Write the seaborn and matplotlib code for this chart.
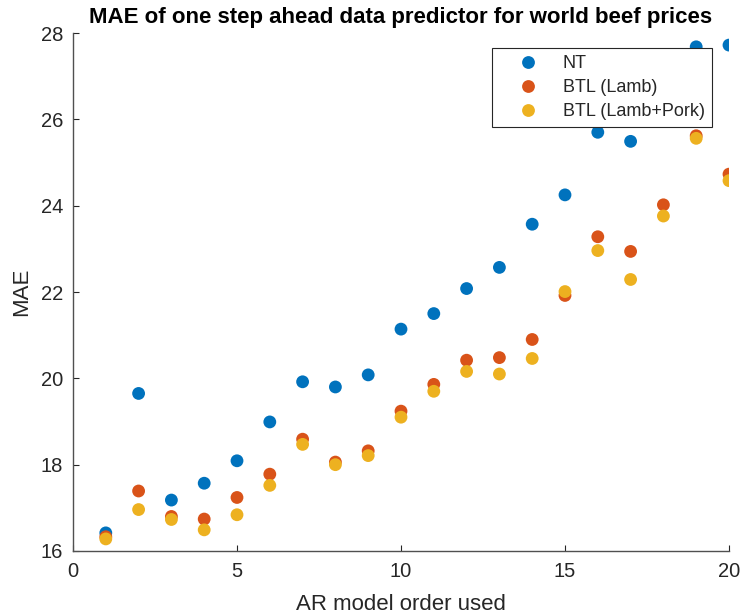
import numpy as np
import pandas as pd
import matplotlib
matplotlib.use("Agg")
import matplotlib.pyplot as plt
import seaborn as sns

orders = list(range(1, 21))
nt = [16.42, 19.65, 17.18, 17.57, 18.09, 18.99, 19.92, 19.80, 20.08, 21.14,
      21.50, 22.08, 22.57, 23.57, 24.25, 25.70, 25.49, 26.60, 27.68, 27.72]
btl_lamb = [16.33, 17.39, 16.80, 16.74, 17.24, 17.78, 18.59, 18.06, 18.32, 19.24,
            19.86, 20.42, 20.48, 20.90, 21.92, 23.28, 22.94, 24.02, 25.62, 24.73]
btl_lamb_pork = [16.28, 16.96, 16.73, 16.49, 16.84, 17.52, 18.47, 18.00, 18.21, 19.10,
                 19.70, 20.16, 20.10, 20.46, 22.01, 22.96, 22.29, 23.76, 25.56, 24.58]
series_names = ["NT", "BTL (Lamb)", "BTL (Lamb+Pork)"]
colors = ["#0072BD", "#D95319", "#EDB120"]
x_ticks = [0, 5, 10, 15, 20]
y_ticks = [16, 18, 20, 22, 24, 26, 28]

df = pd.concat([
    pd.DataFrame({"order": orders, "MAE": vals, "series": name})
    for name, vals in zip(series_names, [nt, btl_lamb, btl_lamb_pork])
], ignore_index=True)

sns.set_theme(style="white")
plt.rcParams['font.family'] = ['Liberation Sans', 'DejaVu Sans']

fig = plt.figure(figsize=(7.42, 6.16), dpi=100)
ax = fig.add_axes([73/742, 1-551/616, 656/742, 518/616])

sns.scatterplot(data=df, x="order", y="MAE", hue="series", hue_order=series_names,
                palette=colors, s=85, linewidth=0, ax=ax, zorder=3, legend=True)

ax.set_xlim(0, 20)
ax.set_ylim(16, 28)
ax.set_xticks(x_ticks)
ax.set_yticks(y_ticks)
tc = "#262626"
ax.tick_params(direction="in", length=4.5, width=0.8, colors=tc, labelsize=14.5,
               top=False, right=False, bottom=True, left=True)
ax.tick_params(axis="x", pad=8)
ax.tick_params(axis="y", pad=7)
for s in ["top", "right"]:
    ax.spines[s].set_visible(False)
for s in ["left", "bottom"]:
    ax.spines[s].set_color("#505050")
    ax.spines[s].set_linewidth(1.0)
ax.set_xlabel("AR model order used", fontsize=16, color=tc, labelpad=9)
ax.set_ylabel("MAE", fontsize=16, color=tc, labelpad=6)
ax.set_title("MAE of one step ahead data predictor for world beef prices",
             fontsize=16, fontweight="bold", color="black", pad=7)

leg = ax.legend(loc="upper right", bbox_to_anchor=(0.974, 0.971), fontsize=13,
                frameon=True, fancybox=False, framealpha=1, edgecolor="#262626",
                borderpad=0.4, labelspacing=0.38, handlelength=3.2, handletextpad=0.3,
                borderaxespad=0, markerscale=1.0)
leg.get_frame().set_linewidth(0.8)
leg.set_zorder(10)
for t in leg.get_texts():
    t.set_color(tc)

fig.savefig("out.png", dpi=100)
